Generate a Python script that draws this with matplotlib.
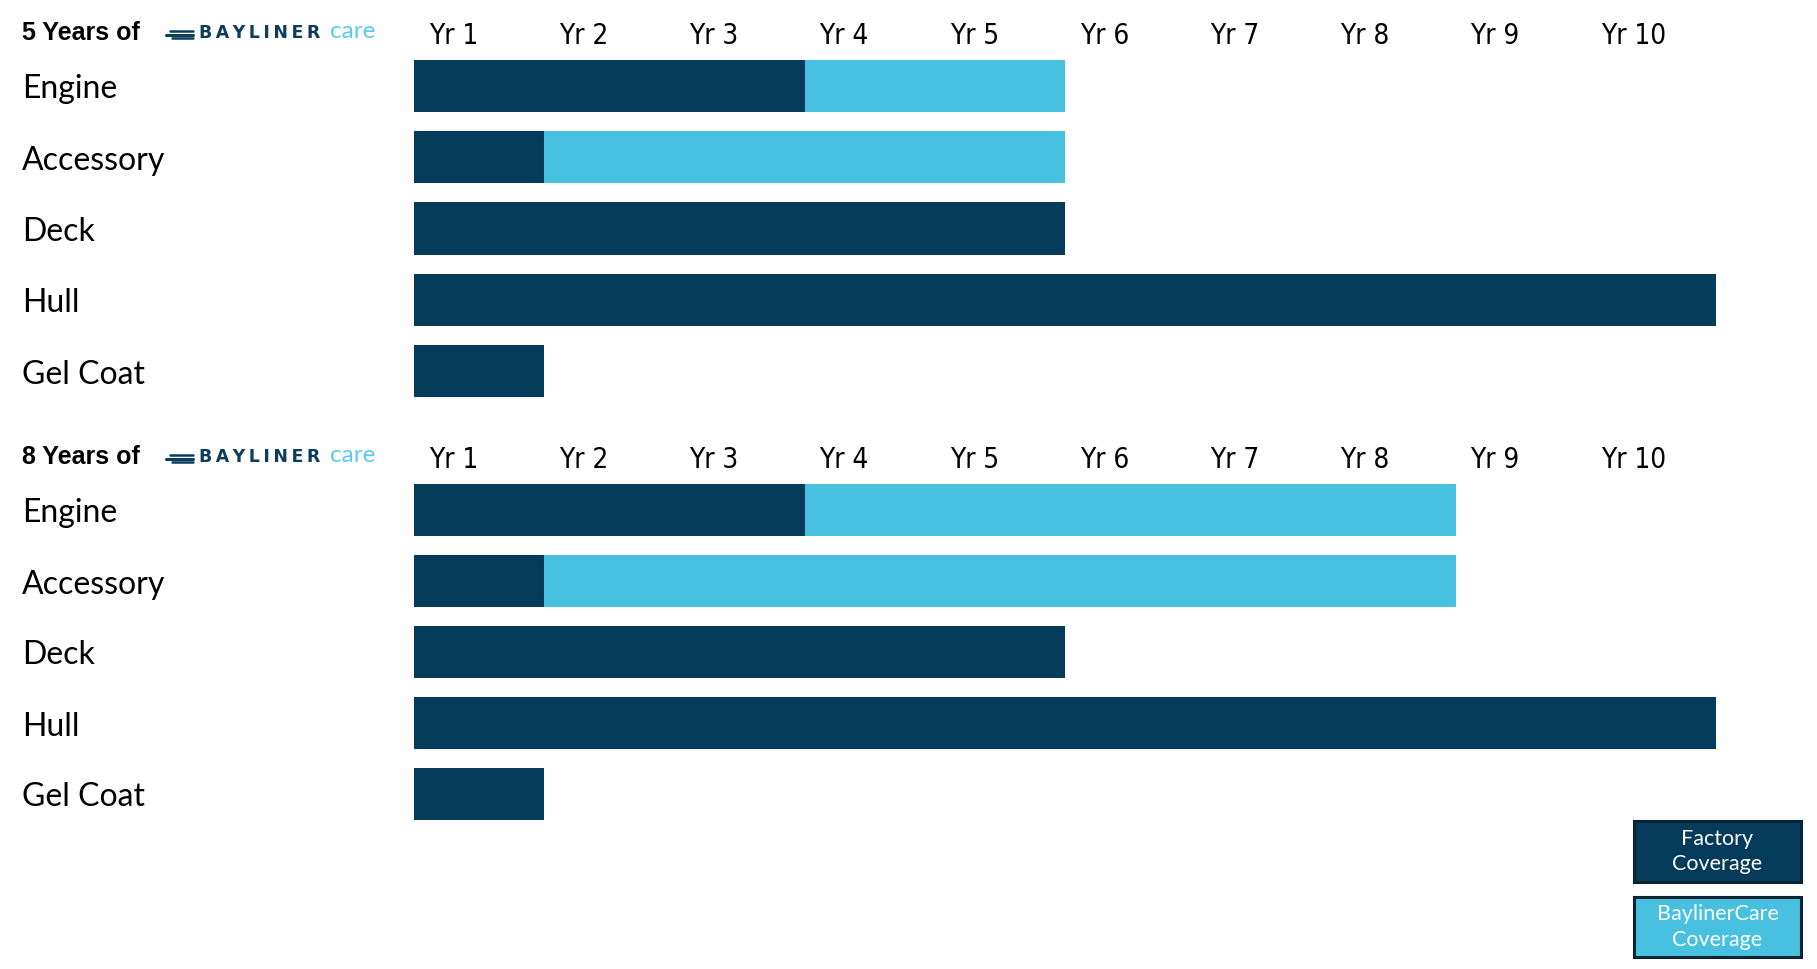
import matplotlib
matplotlib.use("Agg")
import matplotlib.pyplot as plt
from matplotlib.patches import Rectangle
from matplotlib.lines import Line2D
from matplotlib.transforms import blended_transform_factory

# coverage data (years)
categories = ["Engine", "Accessory", "Deck", "Hull", "Gel Coat"]
factory_years = [3, 1, 5, 10, 1]
care_extra_5 = [2, 4, 0, 0, 0]
care_extra_8 = [5, 7, 0, 0, 0]
year_labels = ["Yr 1", "Yr 2", "Yr 3", "Yr 4", "Yr 5", "Yr 6", "Yr 7", "Yr 8", "Yr 9", "Yr 10"]
plan_titles = ["5 Years of", "8 Years of"]

DARK = "#043a5a"
LIGHT = "#48c0df"

W, H = 1817, 969
fig = plt.figure(figsize=(W / 100, H / 100), dpi=100)
fig.patch.set_facecolor("white")

label_font = ["Lato", "DejaVu Sans"]


def fy(px):
    return 1 - px / H


def fx(px):
    return px / W


# axes (top px, bottom px), baseline of header row in px
sections = [(50.35, 406.65, 44.5, care_extra_5), (474.5, 829.5, 468.5, care_extra_8)]

for k, (top, bot, base, care) in enumerate(sections):
    ax = fig.add_axes([fx(414), fy(bot), fx(1716) - fx(414), (bot - top) / H])
    ax.set_xlim(0, 10)
    ax.set_ylim(len(categories) - 0.5, -0.5)
    ax.axis("off")
    y = list(range(len(categories)))
    ax.barh(y, factory_years, height=0.73, color=DARK, left=0)
    ax.barh(y, care, height=0.73, color=LIGHT, left=factory_years)

    pitch = (bot - top) / len(categories)
    hdr_y = -0.5 - (top - base) / pitch
    for i, lab in enumerate(year_labels):
        ax.text(i + 0.115, hdr_y, lab, ha="left", va="baseline", fontsize=20,
                family="DejaVu Sans", fontstretch="condensed", color="black")

    tr = blended_transform_factory(fig.transFigure, ax.transData)
    for j, cat in enumerate(categories):
        ax.text(fx(22), j + 12.5 / pitch, cat, transform=tr, ha="left", va="baseline",
                fontsize=23, family=label_font, color="black")

    # header: "N Years of" + logo
    ax.text(fx(22), hdr_y - 4 / pitch, plan_titles[k], transform=tr, ha="left",
            va="baseline", fontsize=18, fontweight="bold",
            family=["Liberation Sans", "DejaVu Sans"])
    ax.text(fx(199), hdr_y - 6 / pitch, "\u2009".join("BAYLINER"),
            transform=tr, ha="left", va="baseline", fontsize=12.5, fontweight="bold",
            color="#0b3d5c", family=["DejaVu Sans"])
    ax.text(fx(330), hdr_y - 6 / pitch, "care", transform=tr, ha="left", va="baseline",
            fontsize=17.5, color="#5ccbee", family=["Lato", "DejaVu Sans"])
    cy = base - 10
    for dy, x0, lw in [(-3.6, 170, 1.8), (0, 166, 2.2), (3.6, 172, 1.8)]:
        fig.add_artist(Line2D([fx(x0), fx(193)], [fy(cy + dy), fy(cy + dy)],
                              color="#0b3d5c", lw=lw, solid_capstyle="round"))

# legend boxes
legend_items = [("Factory\nCoverage", DARK, 821, 882), ("BaylinerCare\nCoverage", LIGHT, 897, 957)]
for text, col, t, b in legend_items:
    fig.add_artist(Rectangle((fx(1634), fy(b)), fx(1801) - fx(1634), (b - t) / H,
                             transform=fig.transFigure, facecolor=col,
                             edgecolor="#0b2433", lw=2.2))
    fig.text(fx(1717.5), fy((t + b) / 2), text, ha="center", va="center",
             fontsize=15.5, color="white", family=label_font, linespacing=1.35)

fig.savefig("out.png", dpi=100)
